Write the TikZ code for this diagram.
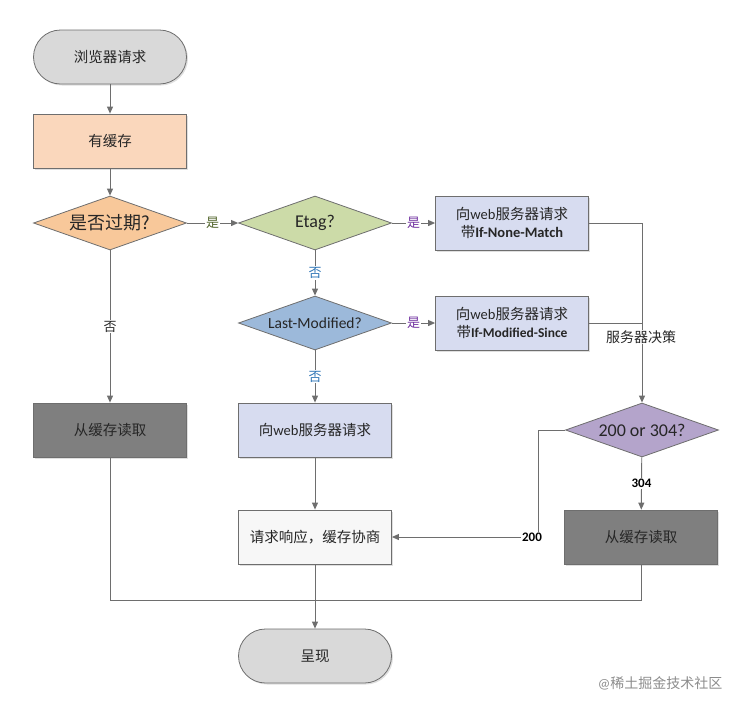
\documentclass[tikz,border=0pt]{standalone}
\usepackage{fontspec}
\setmainfont{Carlito}
\newfontfamily\cjk{Noto Sans CJK SC}
\usetikzlibrary{shapes.geometric}
\usetikzlibrary{arrows.meta,shadows}

\definecolor{linegray}{HTML}{6E6E6E}
\definecolor{textgray}{HTML}{262626}
\definecolor{pillfill}{HTML}{D9D9D9}
\definecolor{cachefill}{HTML}{FAD7BC}
\definecolor{expirefill}{HTML}{F8C89A}
\definecolor{etagfill}{HTML}{CCDBA8}
\definecolor{lmfill}{HTML}{9CB9DA}
\definecolor{askfill}{HTML}{D7DCF0}
\definecolor{codefill}{HTML}{B4A4CB}
\definecolor{hitfill}{HTML}{7F7F7F}
\definecolor{yesgreen}{HTML}{4F6228}
\definecolor{yespurple}{HTML}{7030A0}
\definecolor{noblue}{HTML}{2E75B6}

\begin{document}
\begin{tikzpicture}[x=1pt, y=-1pt,
  box/.style={rectangle, draw=linegray, line width=0.8pt, text=textgray,
    minimum width=153pt, minimum height=54pt, align=center,
    font=\fontsize{14.5}{17.5}\selectfont,
    drop shadow={shadow xshift=1.5pt, shadow yshift=-1.5pt, opacity=0.25}},
  pill/.style={box, rounded corners=27pt},
  choice/.style={diamond, draw=linegray, line width=0.8pt, text=textgray,
    minimum width=153pt, minimum height=54pt, aspect=3, inner sep=0pt,
    font=\fontsize{18}{21}\selectfont},
  tag/.style={fill=white, inner sep=1pt, font=\fontsize{13}{15}\selectfont},
  flow/.style={draw=linegray, line width=0.9pt, -{Triangle[length=7pt,width=6pt]}},
  plain/.style={draw=linegray, line width=0.9pt}]

  \useasboundingbox (0,0) rectangle (749,710);

  % left column
  \node[pill, fill=pillfill] (browser) at (110,57) {\cjk 浏览器请求};
  \node[box, fill=cachefill] (cached) at (110,141) {\cjk 有缓存};
  \node[choice, fill=expirefill] (expired) at (110,223) {\cjk 是否过期?};
  \node[box, fill=hitfill] (hitleft) at (110,430) {\cjk 从缓存读取};

  % middle column
  \node[choice, fill=etagfill] (etag) at (315,223) {Etag?};
  \node[choice, fill=lmfill, font=\fontsize{15.5}{18}\selectfont] (lastmod) at (315,323) {Last-Modified?};
  \node[box, fill=askfill] (ask) at (315,430) {{\cjk 向}web{\cjk 服务器请求}};
  \node[box, fill=white!97!black] (respond) at (315,537) {{\cjk 请求响应，缓存协商}};
  \node[pill, fill=pillfill] (show) at (315,656) {\cjk 呈现};

  % right column
  \node[box, fill=askfill] (asketag) at (512,223)
       {{\cjk 向}web{\cjk 服务器请求}\\{\cjk 带}\textbf{If-None-Match}};
  \node[box, fill=askfill] (asklm) at (512,323)
       {{\cjk 向}web{\cjk 服务器请求}\\{\cjk 带}\textbf{\fontsize{13.5}{17.5}\selectfont If-Modified-Since}};
  \node[choice, fill=codefill] (decide) at (642,430) {200 or 304?};
  \node[box, fill=hitfill] (hitright) at (641,537) {\cjk 从缓存读取};

  % connectors
  \draw[flow] (browser) -- (cached);
  \draw[flow] (cached) -- (expired);
  \draw[flow] (expired) -- node[tag, text=yesgreen] {\cjk 是} (etag);
  \draw[flow] (expired) -- node[tag, text=textgray] {\cjk 否} (hitleft);
  \draw[flow] (etag) -- node[tag, text=yespurple] {\cjk 是} (asketag);
  \draw[flow] (etag) -- node[tag, text=noblue] {\cjk 否} (lastmod);
  \draw[flow] (lastmod) -- node[tag, text=yespurple] {\cjk 是} (asklm);
  \draw[flow] (lastmod) -- node[tag, text=noblue] {\cjk 否} (ask);
  \draw[flow] (ask) -- (respond);

  % server side
  \draw[flow] (asketag.east) -| (decide.north);
  \draw[plain] (asklm.east) -- (asklm.east -| decide.north);
  \node[tag, font=\fontsize{14}{16}\selectfont, text=textgray] (verdict) at (641,337) {\cjk 服务器决策};
  \draw[flow] (decide) -- node[tag, font=\bfseries\fontsize{13}{15}\selectfont] {304} (hitright);
  \coordinate (turn) at (538,430);
  \draw[flow] (decide.west) -- (turn) |- (respond.east);
  \node[tag, font=\bfseries\fontsize{13}{15}\selectfont] (twohundred) at (532,537) {200};

  % merge into the result
  \coordinate (merge) at (315,600);
  \draw[plain] (hitleft.south) |- (merge);
  \draw[plain] (hitright.south) |- (merge);
  \draw[flow] (respond) -- (show);

  % watermark
  \node[text=black!45, font=\fontsize{14}{16}\selectfont] (mark) at (660,683) {@{\cjk 稀土掘金技术社区}};
\end{tikzpicture}
\end{document}
